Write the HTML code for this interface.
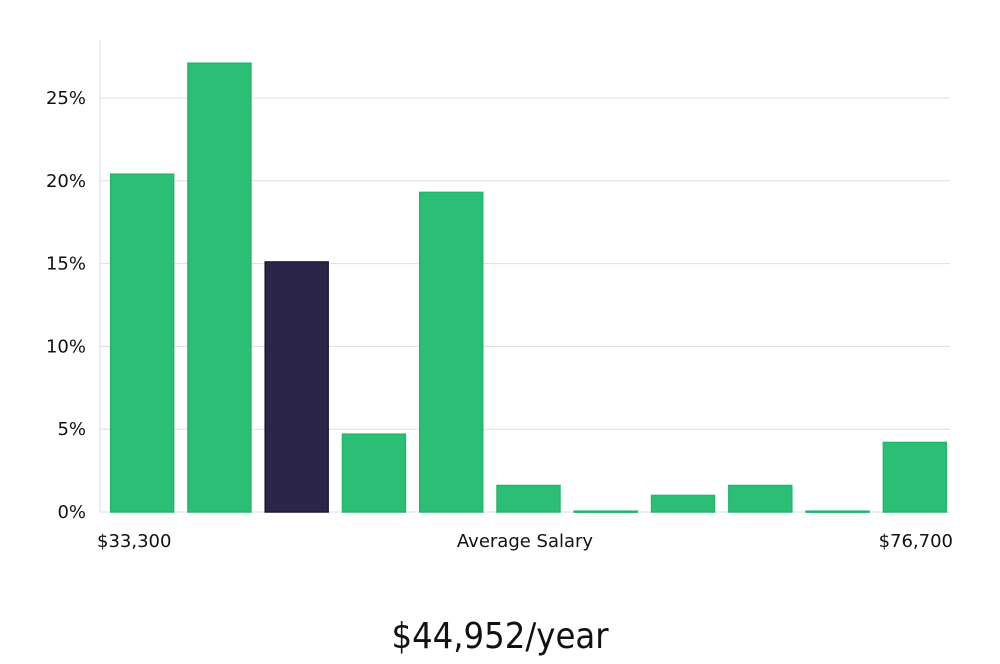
<!DOCTYPE html>
<html><head><meta charset="utf-8"><style>
body{margin:0;background:#fff;width:1000px;height:660px;overflow:hidden;font-family:"DejaVu Sans","Liberation Sans",sans-serif;}
svg text{fill:#111;}
</style></head><body>
<svg id="chart" width="1000" height="660" xmlns="http://www.w3.org/2000/svg">
<g id="grid"></g>
<g id="bars"></g>
<g id="yticks"></g>
<text x="97" y="547" font-size="18">$33,300</text>
<text x="525" y="547" font-size="18" text-anchor="middle">Average Salary</text>
<text x="953" y="547" font-size="18" text-anchor="end">$76,700</text>
<text x="500" y="648" font-size="36" text-anchor="middle" font-family="DejaVu Sans Condensed, DejaVu Sans, sans-serif" font-weight="300">$44,952/year</text>
</svg>
<script>
const categories=["b1","b2","b3","b4","b5","b6","b7","b8","b9","b10","b11"];
const values=[20.4,27.1,15.1,4.7,19.3,1.6,0.05,1.0,1.6,0.05,4.2];
const highlight=[false,false,true,false,false,false,false,false,false,false,false];
const yTicks=[0,5,10,15,20,25];
const yTickLabels=["0%","5%","10%","15%","20%","25%"];
const ns="http://www.w3.org/2000/svg";
const x0=100,x1=950,yBase=512,pxPer=16.56;
const y=v=>yBase-v*pxPer;
const step=(x1-x0)/categories.length, bw=step*0.815;
const grid=document.getElementById('grid'),yt=document.getElementById('yticks'),bars=document.getElementById('bars');
const ax=document.createElementNS(ns,'line');


ax.setAttribute('x1',x0);ax.setAttribute('x2',x0);ax.setAttribute('y1',40);ax.setAttribute('y2',yBase);ax.setAttribute('stroke','#ddd');
grid.appendChild(ax);
yTicks.forEach((t,i)=>{
 const l=document.createElementNS(ns,'line');
 
 
 l.setAttribute('x1',x0);l.setAttribute('x2',x1);l.setAttribute('y1',y(t));l.setAttribute('y2',y(t));l.setAttribute('stroke','#ddd');
 grid.appendChild(l);
 const tx=document.createElementNS(ns,'text');
 
 
 tx.setAttribute('x',86);tx.setAttribute('y',y(t)+6);tx.setAttribute('text-anchor','end');tx.setAttribute('font-size','18');
 tx.textContent=yTickLabels[i];yt.appendChild(tx);
});
values.forEach((v,i)=>{
 const r=document.createElementNS(ns,'rect');
 
 
 const bx=x0+i*step+(step-bw)/2+3.5;
 r.setAttribute('x',bx);r.setAttribute('width',bw);
 r.setAttribute('y',y(v));r.setAttribute('height',Math.max(1,v*pxPer));
 r.setAttribute('fill',highlight[i]?'#2a2549':'#2bbf76');
 r.setAttribute('stroke',highlight[i]?'#1c1838':'#22b56b');r.setAttribute('stroke-width','1.5');
 bars.appendChild(r);
});
</script>
</body></html>
